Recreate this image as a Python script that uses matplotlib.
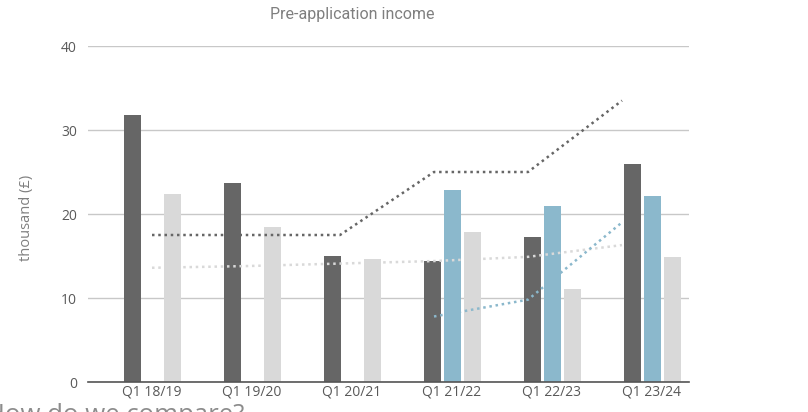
import matplotlib
matplotlib.use("Agg")
import matplotlib.pyplot as plt
import numpy as np
from matplotlib import font_manager

categories = ["Q1 18/19", "Q1 19/20", "Q1 20/21", "Q1 21/22", "Q1 22/23", "Q1 23/24"]
dark_vals = [31.8, 23.7, 15.0, 14.4, 17.3, 25.9]
blue_vals = [np.nan, np.nan, np.nan, 22.9, 20.95, 22.2]
light_vals = [22.4, 18.4, 14.6, 17.8, 11.1, 14.9]

dark_trend = [17.5, 17.5, 17.5, 25.0, 25.0, 33.5]
blue_trend = [np.nan, np.nan, np.nan, 7.8, 9.8, 19.0]
light_trend = [13.6, 13.8, 14.1, 14.4, 14.9, 16.3]

yticks = [0, 10, 20, 30, 40]

DARK = "#666666"
BLUE = "#8BB8CC"
LIGHT = "#D9D9D9"

installed = {f.name for f in font_manager.fontManager.ttflist}
title_fam = [f for f in ["Liberation Sans Narrow", "Roboto", "DejaVu Sans"] if f in installed]

fig = plt.figure(figsize=(8.08, 4.12), dpi=100)
ax = fig.add_axes([88/808, 30/412, (689-88)/808, (382-46)/412])

x = np.arange(len(categories))
w = 0.17
ax.bar(x - 0.2, dark_vals, w, color=DARK, zorder=3)
ax.bar(x, blue_vals, w, color=BLUE, zorder=3)
ax.bar(x + 0.2, light_vals, w, color=LIGHT, zorder=3)

ax.set_xlim(-0.64, 5.37)
ax.set_ylim(0, 40)
ax.set_yticks(yticks)
ax.set_xticks(x)
ax.set_xticklabels(categories, fontsize=10, color="#595959", family=["Open Sans", "DejaVu Sans"])
ax.set_yticklabels([str(v) for v in yticks], fontsize=10, color="#595959", family=["Open Sans", "DejaVu Sans"])
ax.tick_params(axis="both", length=0, pad=8)
ax.tick_params(axis="x", pad=2)
ax.grid(axis="y", color="#C8C8C8", linewidth=1, zorder=0)
for s in ["top", "right", "left"]:
    ax.spines[s].set_visible(False)
ax.spines["bottom"].set_color("#555555")
ax.spines["bottom"].set_linewidth(1.2)
ax.spines["bottom"].set_zorder(4)

# secondary category axis for trend lines
ax2 = ax.twiny()
ax2.set_xlim(-0.64/0.94, 5.37/0.94)
ax2.set_ylim(0, 40)
ax2.axis("off")
ls = (0, (1, 1.5))
ax2.plot(x, light_trend, color=LIGHT, lw=1.8, linestyle=ls, zorder=4)
ax2.plot(x, blue_trend, color=BLUE, lw=1.8, linestyle=ls, zorder=4)
ax2.plot(x, dark_trend, color=DARK, lw=1.8, linestyle=ls, zorder=4)

ax.set_ylabel("thousand (£)", fontsize=10.5, color="#7F7F7F", family=["Open Sans", "DejaVu Sans"])
ax.yaxis.set_label_coords(-54/601, 0.488)

fig.text(352/808, 1 - 15/412, "Pre-application income", ha="center", va="center",
         fontsize=11.5, color="#7F7F7F", family=title_fam)
fig.text(-14/808, -10/412, "How do we compare?", ha="left", va="baseline",
         fontsize=18.5, color="#8C8C8C", family=["Open Sans", "DejaVu Sans"])

fig.savefig("out.png", dpi=100)
